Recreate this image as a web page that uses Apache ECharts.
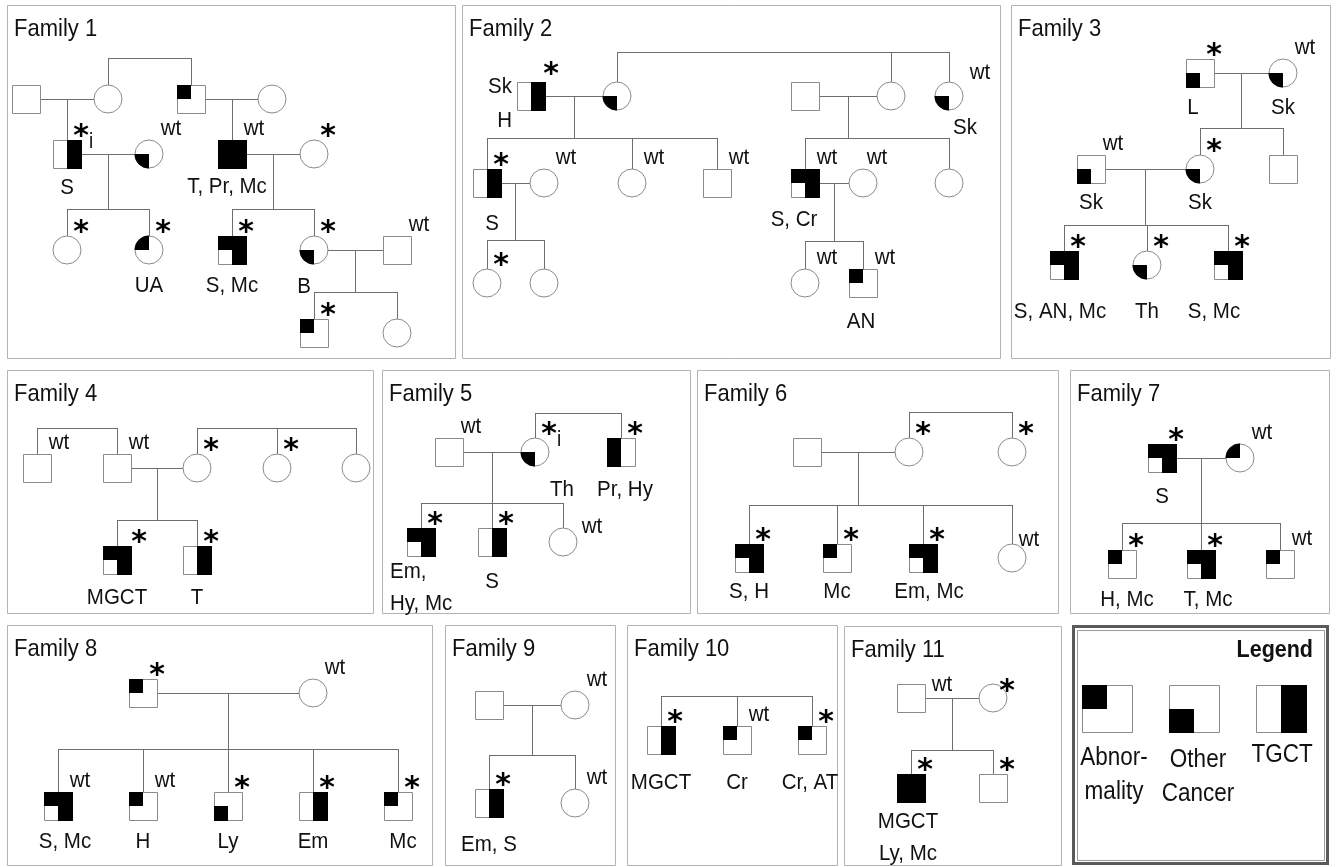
<!DOCTYPE html>
<html><head><meta charset="utf-8">
<script src="https://cdn.jsdelivr.net/npm/echarts@6/dist/echarts.min.js"></script>
<style>html,body{margin:0;padding:0;background:#fff}#c{width:1337px;height:867px}</style>
</head><body><div id="c"></div>
<script>
// ---------- DATA ----------
// panels: title, left, top, right, bottom (in chart units)
const panels = [
  ['Family 1', 7, 5, 455, 358],
  ['Family 2', 462, 5, 1000, 358],
  ['Family 3', 1011, 5, 1330, 358],
  ['Family 4', 7, 370, 373, 613],
  ['Family 5', 382, 370, 690, 613],
  ['Family 6', 697, 370, 1058, 613],
  ['Family 7', 1070, 370, 1329, 613],
  ['Family 8', 7, 625, 432, 865],
  ['Family 9', 445, 625, 615, 865],
  ['Family 10', 627, 625, 837, 865],
  ['Family 11', 844, 626, 1061, 865]
];
const legendBox = ['Legend', 1072, 625, 1329, 865];

// person: id, x, y, sex (m/f), status (a = abnormality, c = other cancer, t = TGCT), mark above, label below
const fam1 = [
  ['f1a', 26, 99, 'm', '', '', ''],
  ['f1b', 108, 99, 'f', '', '', ''],
  ['f1c', 191, 99, 'm', 'a', '', ''],
  ['f1d', 272, 99, 'f', '', '', ''],
  ['f1e', 67, 154, 'm', 't', '*i', 'S'],
  ['f1f', 149, 154, 'f', 'c', 'wt', ''],
  ['f1g', 232, 154, 'm', 'act', 'wt', 'T, Pr, Mc'],
  ['f1h', 314, 154, 'f', '', '*', ''],
  ['f1i', 67, 250, 'f', '', '*', ''],
  ['f1j', 149, 250, 'f', 'a', '*', 'UA'],
  ['f1k', 232, 250, 'm', 'at', '*', 'S, Mc'],
  ['f1l', 314, 250, 'f', 'c', '*', 'B'],
  ['f1m', 397, 250, 'm', '', 'wt', ''],
  ['f1n', 314, 333, 'm', 'a', '*', ''],
  ['f1o', 397, 333, 'f', '', '', '']
];
const fam1Links = [
  [null, null, 58, ['f1b', 'f1c']],
  ['f1a', 'f1b', null, ['f1e']],
  ['f1c', 'f1d', null, ['f1g']],
  ['f1e', 'f1f', 209, ['f1i', 'f1j']],
  ['f1g', 'f1h', 209, ['f1k', 'f1l']],
  ['f1l', 'f1m', 292, ['f1n', 'f1o']]
];
const fam2 = [
  ['f2a', 531, 96, 'm', 't', '*', 'Sk\nH'],
  ['f2b', 617, 96, 'f', 'c', '', ''],
  ['f2c', 805, 96, 'm', '', '', ''],
  ['f2d', 891, 96, 'f', '', '', ''],
  ['f2e', 949, 96, 'f', 'c', 'wt', 'Sk'],
  ['f2f', 487, 183, 'm', 't', '*', 'S'],
  ['f2g', 544, 183, 'f', '', 'wt', ''],
  ['f2h', 632, 183, 'f', '', 'wt', ''],
  ['f2i', 717, 183, 'm', '', 'wt', ''],
  ['f2j', 805, 183, 'm', 'at', 'wt', 'S, Cr'],
  ['f2k', 863, 183, 'f', '', 'wt', ''],
  ['f2l', 949, 183, 'f', '', '', ''],
  ['f2m', 487, 283, 'f', '', '*', ''],
  ['f2n', 544, 283, 'f', '', '', ''],
  ['f2o', 805, 283, 'f', '', 'wt', ''],
  ['f2p', 863, 283, 'm', 'a', 'wt', 'AN']
];
const fam2Links = [
  [null, null, 52, ['f2b', 'f2d', 'f2e']],
  ['f2a', 'f2b', 138, ['f2f', 'f2h', 'f2i']],
  ['f2c', 'f2d', 138, ['f2j', 'f2l']],
  ['f2f', 'f2g', 240, ['f2m', 'f2n']],
  ['f2j', 'f2k', 241, ['f2o', 'f2p']]
];
const fam3 = [
  ['f3a', 1200, 73, 'm', 'c', '*', 'L'],
  ['f3b', 1283, 73, 'f', 'c', 'wt', 'Sk'],
  ['f3c', 1091, 169, 'm', 'c', 'wt', 'Sk'],
  ['f3d', 1200, 169, 'f', 'c', '*', 'Sk'],
  ['f3e', 1283, 169, 'm', '', '', ''],
  ['f3f', 1064, 265, 'm', 'at', '*', 'S, AN, Mc'],
  ['f3g', 1147, 265, 'f', 'c', '*', 'Th'],
  ['f3h', 1228, 265, 'm', 'at', '*', 'S, Mc']
];
const fam3Links = [
  ['f3a', 'f3b', 128, ['f3d', 'f3e']],
  ['f3c', 'f3d', 225, ['f3f', 'f3g', 'f3h']]
];
const fam4 = [
  ['f4a', 37, 468, 'm', '', 'wt', ''],
  ['f4b', 117, 468, 'm', '', 'wt', ''],
  ['f4c', 197, 468, 'f', '', '*', ''],
  ['f4d', 277, 468, 'f', '', '*', ''],
  ['f4e', 356, 468, 'f', '', '', ''],
  ['f4f', 117, 560, 'm', 'at', '*', 'MGCT'],
  ['f4g', 197, 560, 'm', 't', '*', 'T']
];
const fam4Links = [
  [null, null, 428, ['f4a', 'f4b']],
  [null, null, 428, ['f4c', 'f4d', 'f4e']],
  ['f4b', 'f4c', 520, ['f4f', 'f4g']]
];
const fam5 = [
  ['f5a', 449, 452, 'm', '', 'wt', ''],
  ['f5b', 535, 452, 'f', 'c', '*i', 'Th'],
  ['f5c', 621, 452, 'm', 'ac', '*', 'Pr, Hy'],
  ['f5d', 421, 542, 'm', 'at', '*', 'Em,\nHy, Mc'],
  ['f5e', 492, 542, 'm', 't', '*', 'S'],
  ['f5f', 563, 542, 'f', '', 'wt', '']
];
const fam5Links = [
  [null, null, 413, ['f5b', 'f5c']],
  ['f5a', 'f5b', 503, ['f5d', 'f5e', 'f5f']]
];
const fam6 = [
  ['f6a', 807, 452, 'm', '', '', ''],
  ['f6b', 909, 452, 'f', '', '*', ''],
  ['f6c', 1012, 452, 'f', '', '*', ''],
  ['f6d', 749, 558, 'm', 'at', '*', 'S, H'],
  ['f6e', 837, 558, 'm', 'a', '*', 'Mc'],
  ['f6f', 923, 558, 'm', 'at', '*', 'Em, Mc'],
  ['f6g', 1012, 558, 'f', '', 'wt', '']
];
const fam6Links = [
  [null, null, 412, ['f6b', 'f6c']],
  ['f6a', 'f6b', 505, ['f6d', 'f6e', 'f6f', 'f6g']]
];
const fam7 = [
  ['f7a', 1162, 458, 'm', 'at', '*', 'S'],
  ['f7b', 1240, 458, 'f', 'a', 'wt', ''],
  ['f7c', 1122, 564, 'm', 'a', '*', 'H, Mc'],
  ['f7d', 1201, 564, 'm', 'at', '*', 'T, Mc'],
  ['f7e', 1280, 564, 'm', 'a', 'wt', '']
];
const fam7Links = [
  ['f7a', 'f7b', 523, ['f7c', 'f7d', 'f7e']]
];
const fam8 = [
  ['f8a', 143, 693, 'm', 'a', '*', ''],
  ['f8b', 313, 693, 'f', '', 'wt', ''],
  ['f8c', 58, 806, 'm', 'at', 'wt', 'S, Mc'],
  ['f8d', 143, 806, 'm', 'a', 'wt', 'H'],
  ['f8e', 228, 806, 'm', 'c', '*', 'Ly'],
  ['f8f', 313, 806, 'm', 't', '*', 'Em'],
  ['f8g', 398, 806, 'm', 'a', '*', 'Mc']
];
const fam8Links = [
  ['f8a', 'f8b', 749, ['f8c', 'f8d', 'f8e', 'f8f', 'f8g']]
];
const fam9 = [
  ['f9a', 489, 705, 'm', '', '', ''],
  ['f9b', 575, 705, 'f', '', 'wt', ''],
  ['f9c', 489, 803, 'm', 't', '*', 'Em, S'],
  ['f9d', 575, 803, 'f', '', 'wt', '']
];
const fam9Links = [
  ['f9a', 'f9b', 755, ['f9c', 'f9d']]
];
const fam10 = [
  ['f10a', 661, 740, 'm', 't', '*', 'MGCT'],
  ['f10b', 737, 740, 'm', 'a', 'wt', 'Cr'],
  ['f10c', 812, 740, 'm', 'a', '*', 'Cr, AT']
];
const fam10Links = [
  [null, null, 696, ['f10a', 'f10b', 'f10c']]
];
const fam11 = [
  ['f11a', 911, 698, 'm', '', 'wt', ''],
  ['f11b', 993, 698, 'f', '', '*', ''],
  ['f11c', 911, 788, 'm', 'act', '*', 'MGCT\nLy, Mc'],
  ['f11d', 993, 788, 'm', '', '*', '']
];
const fam11Links = [
  ['f11a', 'f11b', 750, ['f11c', 'f11d']]
];

// legend entries: status, label
const legendItems = [['a', 'Abnor-\nmality'], ['c', 'Other\nCancer'], ['t', 'TGCT']];

// ---------- LAYOUT (label placement tweaks) ----------
const legendLayout = [[1107, 708, 1114, 758], [1194, 708, 1198, 760], [1281, 708, 1282, 755]];
const belowPlace = {
  f1e: [0, 34], f1g: [-5, 33], f1l: [-10, 37],
  f2a: [-19, -9, 'right'], f2e: [16, 32], f2f: [5, 41], f2j: [-11, 37], f2p: [-2, 39],
  f3a: [-7, 35], f3b: [0, 35], f3c: [0, 34], f3d: [0, 34], f3f: [-4, 47], f3g: [0, 47], f3h: [-14, 47],
  f4f: [0, 38], f4g: [0, 38],
  f5b: [27, 38], f5c: [4, 38], f5d: [-31, 30, 'left'], f5e: [0, 40],
  f6d: [0, 34], f6e: [0, 34], f6f: [6, 34],
  f7a: [0, 39], f7c: [5, 36], f7d: [7, 36],
  f8c: [7, 36], f8g: [5, 36],
  f9c: [0, 42], f10a: [0, 43], f10b: [0, 43], f10c: [-2, 43], f11c: [-3, 34]
};
const abovePlace = {
  f2a: [6, -4], f2e: [9, 2], f2k: [-8, 0], f5f: [7, 10], f6g: [-5, 7], f11a: [9, 12], f11b: [0, 11], f4f: [8, 0]
};

// ---------- BUILD ----------
const families = [fam1, fam2, fam3, fam4, fam5, fam6, fam7, fam8, fam9, fam10, fam11];
const familyLinks = [fam1Links, fam2Links, fam3Links, fam4Links, fam5Links, fam6Links, fam7Links, fam8Links, fam9Links, fam10Links, fam11Links];
const people = [].concat(...families);
const byId = {};
people.forEach(p => { byId[p[0]] = p; });
const HALF = 14;

const segments = [];
familyLinks.forEach(links => links.forEach(([a, b, sibY, kids]) => {
  const ks = kids.map(k => byId[k]);
  let mx = null, topY = null;
  if (a) {
    const A = byId[a], B = byId[b];
    segments.push([A[1], A[2], B[1], B[2]]);
    mx = (A[1] + B[1]) / 2; topY = A[2];
  }
  if (sibY == null) {
    const k = ks[0];
    segments.push([k[1], topY, k[1], k[2] - HALF]);
  } else {
    const xs = ks.map(k => k[1]);
    if (a) xs.push(mx);
    segments.push([Math.min(...xs), sibY, Math.max(...xs), sibY]);
    if (a) segments.push([mx, topY, mx, sibY]);
    ks.forEach(k => segments.push([k[1], sibY, k[1], k[2] - HALF]));
  }
}));

const LINE = '#6e6e6e', OUTLINE = '#8a8a8a', BORDER = '#b3b3b3', INK = '#111';
const FONT = '"Liberation Sans", Arial, sans-serif';
const sn = v => Math.round(v - 0.5) + 0.5;

function label(x, y, text, opt) {
  opt = opt || {};
  const lh = opt.lh || 29;
  return {
    type: 'text', x: x, y: y, scaleY: opt.sy || 1.12,
    style: {
      text: text, x: 0, y: -lh / 2, align: opt.align || 'center', verticalAlign: 'top',
      lineHeight: lh, fontSize: opt.size || 20.5, fontFamily: FONT, fontWeight: opt.weight || 'normal', fill: INK
    }
  };
}

function drawSymbol(cx, cy, hw, hh, sex, status, out) {
  if (sex === 'm') {
    const x0 = Math.round(cx - hw), y0 = Math.round(cy - hh), w = Math.round(2 * hw), h = Math.round(2 * hh);
    const hx = Math.round(w / 2), hy = Math.round(h / 2);
    out.push({ type: 'rect', shape: { x: x0 + 0.5, y: y0 + 0.5, width: w, height: h }, style: { fill: '#fff', stroke: OUTLINE, lineWidth: 1 } });
    if (status.includes('a')) out.push({ type: 'rect', shape: { x: x0, y: y0, width: hx, height: hy }, style: { fill: '#000' } });
    if (status.includes('c')) out.push({ type: 'rect', shape: { x: x0, y: y0 + hy, width: hx, height: h - hy + 1 }, style: { fill: '#000' } });
    if (status.includes('t')) out.push({ type: 'rect', shape: { x: x0 + hx, y: y0, width: w - hx + 1, height: h + 1 }, style: { fill: '#000' } });
  } else {
    out.push({ type: 'circle', shape: { cx: cx, cy: cy, r: hw }, style: { fill: '#fff', stroke: OUTLINE, lineWidth: 1 } });
    if (status.includes('a')) out.push({ type: 'sector', shape: { cx: cx, cy: cy, r0: 0, r: hw + 0.5, startAngle: Math.PI, endAngle: Math.PI * 1.5, clockwise: true }, style: { fill: '#000' } });
    if (status.includes('c')) out.push({ type: 'sector', shape: { cx: cx, cy: cy, r0: 0, r: hw + 0.5, startAngle: Math.PI * 0.5, endAngle: Math.PI, clockwise: true }, style: { fill: '#000' } });
  }
}

const chart = echarts.init(document.getElementById('c'), null, { renderer: 'canvas' });
chart.setOption({
  animation: false,
  grid: { left: 0, right: 0, top: 0, bottom: 0 },
  xAxis: { type: 'value', min: 0, max: 1337, show: false },
  yAxis: { type: 'value', min: 0, max: 867, inverse: true, show: false },
  series: [
    { // panel frames
      type: 'custom', coordinateSystem: 'cartesian2d', silent: true, clip: false,
      data: panels.map(p => [p[1], p[2], p[3], p[4]]).concat([[legendBox[1], legendBox[2], legendBox[3], legendBox[4]]]),
      encode: { x: [0, 2], y: [1, 3] },
      renderItem: function (params, api) {
        const a = api.coord([api.value(0), api.value(1)]), b = api.coord([api.value(2), api.value(3)]);
        const isLegend = params.dataIndex === panels.length;
        if (!isLegend) {
          return { type: 'rect', shape: { x: sn(a[0]), y: sn(a[1]), width: Math.round(b[0] - a[0]), height: Math.round(b[1] - a[1]) }, style: { fill: 'none', stroke: BORDER, lineWidth: 1 } };
        }
        return { type: 'group', children: [
          { type: 'rect', shape: { x: a[0] + 1.5, y: a[1] + 1.5, width: b[0] - a[0] - 3, height: b[1] - a[1] - 3 }, style: { fill: 'none', stroke: '#5a5a5a', lineWidth: 3 } },
          { type: 'rect', shape: { x: sn(a[0] + 5), y: sn(a[1] + 5), width: Math.round(b[0] - a[0] - 10), height: Math.round(b[1] - a[1] - 10) }, style: { fill: 'none', stroke: '#9a9a9a', lineWidth: 1 } }
        ] };
      }
    },
    { // pedigree lines
      type: 'custom', coordinateSystem: 'cartesian2d', silent: true, clip: false,
      data: segments, encode: { x: [0, 2], y: [1, 3] },
      renderItem: function (params, api) {
        const a = api.coord([api.value(0), api.value(1)]), b = api.coord([api.value(2), api.value(3)]);
        const vertical = Math.abs(a[0] - b[0]) < 0.5;
        return { type: 'line', shape: {
          x1: vertical ? sn(a[0]) : Math.round(a[0]), y1: vertical ? Math.round(a[1]) : sn(a[1]),
          x2: vertical ? sn(b[0]) : Math.round(b[0]), y2: vertical ? Math.round(b[1]) : sn(b[1]) },
          style: { stroke: LINE, lineWidth: 1 } };
      }
    },
    { // people
      type: 'custom', coordinateSystem: 'cartesian2d', silent: true, clip: false,
      data: people.map(p => [p[1], p[2]]), encode: { x: 0, y: 1 },
      renderItem: function (params, api) {
        const p = people[params.dataIndex];
        const c = api.coord([api.value(0), api.value(1)]);
        const s = api.size([HALF, HALF]);
        const out = [];
        drawSymbol(c[0], c[1], s[0], s[1], p[3], p[4], out);
        const top = p[5];
        if (top) {
          const n = abovePlace[p[0]] || [0, 0];
          if (top[0] === '*') {
            const sx = c[0] + 14 + n[0], sy = c[1] - 26 + n[1];
            out.push({ type: 'text', x: sx, y: sy, style: { text: '*', x: 0, y: 9, align: 'center', verticalAlign: 'middle', fontSize: 30, fontWeight: 'bold', fontFamily: '"DejaVu Sans", sans-serif', fill: '#000' } });
            if (top.length > 1) out.push(label(sx + 10, sy + 14, top.slice(1), { size: 19 }));
          } else {
            out.push(label(c[0] + 22 + n[0], c[1] - 25 + n[1], top));
          }
        }
        if (p[6]) {
          const bp = belowPlace[p[0]] || [0, 36];
          out.push(label(c[0] + bp[0], c[1] + bp[1], p[6], { align: bp[2] || 'center', lh: p[0] === 'f2a' ? 30 : 28 }));
        }
        return { type: 'group', children: out };
      }
    },
    { // titles
      type: 'custom', coordinateSystem: 'cartesian2d', silent: true, clip: false,
      data: panels.map(p => [p[1] + 7, p[2] + 24]).concat([[legendBox[3] - 16, legendBox[2] + 25]]),
      encode: { x: 0, y: 1 },
      renderItem: function (params, api) {
        const c = api.coord([api.value(0), api.value(1)]);
        const isLegend = params.dataIndex === panels.length;
        if (isLegend) return label(c[0], c[1], legendBox[0], { align: 'right', size: 21.5, weight: 'bold', sy: 1.1 });
        return label(c[0], c[1], panels[params.dataIndex][0], { align: 'left', size: 22, sy: 1.1 });
      }
    },
    { // legend symbols
      type: 'custom', coordinateSystem: 'cartesian2d', silent: true, clip: false,
      data: legendLayout.map(l => [l[0], l[1], l[2], l[3]]), encode: { x: [0, 2], y: [1, 3] },
      renderItem: function (params, api) {
        const it = legendItems[params.dataIndex];
        const c = api.coord([api.value(0), api.value(1)]);
        const t = api.coord([api.value(2), api.value(3)]);
        const s = api.size([25, 23.5]);
        const out = [];
        drawSymbol(c[0], c[1], s[0], s[1], 'm', it[0], out);
        out.push(label(t[0], t[1], it[1], { size: 22.5, lh: 30 }));
        return { type: 'group', children: out };
      }
    }
  ]
});
</script>
</body></html>
